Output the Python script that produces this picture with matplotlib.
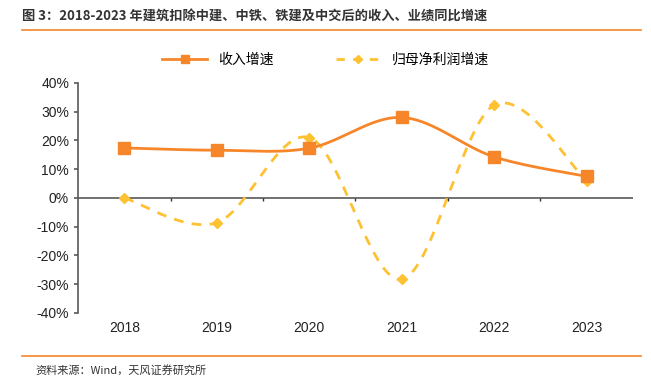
import numpy as np
import matplotlib.pyplot as plt
from matplotlib.lines import Line2D

plt.rcParams['font.family'] = ['Liberation Sans', 'Noto Sans CJK SC', 'DejaVu Sans']

years = ['2018', '2019', '2020', '2021', '2022', '2023']
revenue = [17.4, 16.6, 17.3, 28.0, 14.3, 7.5]
profit = [0.0, -8.6, 21.0, -28.3, 32.3, 6.0]
yticks = [-40, -30, -20, -10, 0, 10, 20, 30, 40]

orange = '#F7862A'
yellow = '#FDC132'
cjk = ['Noto Sans CJK SC', 'DejaVu Sans']


def smooth(x, y, n=40):
    # Catmull-Rom style smoothing like Excel's smoothed line
    x = np.asarray(x, float)
    y = np.asarray(y, float)
    px = np.concatenate([[x[0]], x, [x[-1]]])
    py = np.concatenate([[y[0]], y, [y[-1]]])
    xs, ys = [], []
    t = np.linspace(0, 1, n)
    for i in range(1, len(px) - 2):
        p0, p1, p2, p3 = [np.array([px[j], py[j]]) for j in range(i - 1, i + 3)]
        c1 = p1 + (p2 - p0) / 6
        c2 = p2 - (p3 - p1) / 6
        b = ((1 - t) ** 3)[:, None] * p1 + (3 * (1 - t) ** 2 * t)[:, None] * c1 \
            + (3 * (1 - t) * t ** 2)[:, None] * c2 + (t ** 3)[:, None] * p2
        xs.extend(b[:, 0])
        ys.extend(b[:, 1])
    return np.array(xs), np.array(ys)


fig = plt.figure(figsize=(6.51, 3.84), dpi=100)
ax = fig.add_axes([0.12, 0.185, 0.852, 0.599])

x = np.arange(len(years))
sx, sy = smooth(x, revenue)
ax.plot(sx, sy, color=orange, lw=2, zorder=3)
ax.plot(x, revenue, 's', color=orange, ms=8, zorder=4)
sx, sy = smooth(x, profit)
ax.plot(sx, sy, color=yellow, lw=2, ls=(0, (3.5, 3)), zorder=2)
ax.plot(x, profit, 'D', color=yellow, ms=5.5, zorder=2)

ax.set_xlim(-0.5, len(years) - 0.5)
ax.set_ylim(-40, 40)
ax.set_yticks(yticks)
ax.set_yticklabels([f'{v}%' for v in yticks], fontsize=10, color='#222222')
ax.set_xticks(x)
ax.set_xticklabels(years, fontsize=10, color='#222222')
ax.tick_params(axis='x', length=0, pad=6)
ax.tick_params(axis='y', length=3, color='#595959', width=1.2)
for s in ['top', 'right', 'bottom']:
    ax.spines[s].set_visible(False)
ax.spines['left'].set_color('#595959')
ax.spines['left'].set_linewidth(1.2)
ax.axhline(0, color='#595959', lw=1.2, zorder=1)
ax.vlines(x[:-1] + 0.5, -1.1, 0, color='#333333', lw=1)

handles = [Line2D([], [], color=orange, lw=2, marker='s', ms=6),
           Line2D([], [], color=yellow, lw=2, ls=(0, (3, 3)), marker='D', ms=4)]
fig.legend(handles, ['收入增速', '归母净利润增速'], loc='center', bbox_to_anchor=(0.5, 0.845),
           ncol=2, frameon=False, prop={'family': cjk, 'size': 10}, columnspacing=4.5,
           handlelength=3.2)

fig.text(0.034, 0.958, '图 3：2018-2023 年建筑扣除中建、中铁、铁建及中交后的收入、业绩同比增速',
         fontsize=9.5, fontweight='bold', color='#333333', family=cjk, va='center')
fig.add_artist(Line2D([0.034, 0.985], [0.922, 0.922], color=orange, lw=1.2))
fig.add_artist(Line2D([0.034, 0.985], [0.072, 0.072], color=orange, lw=1.2))
fig.text(0.054, 0.035, '资料来源：Wind，天风证券研究所', fontsize=8, color='#333333',
         family=cjk, va='center')

fig.savefig('out.png', dpi=100)
